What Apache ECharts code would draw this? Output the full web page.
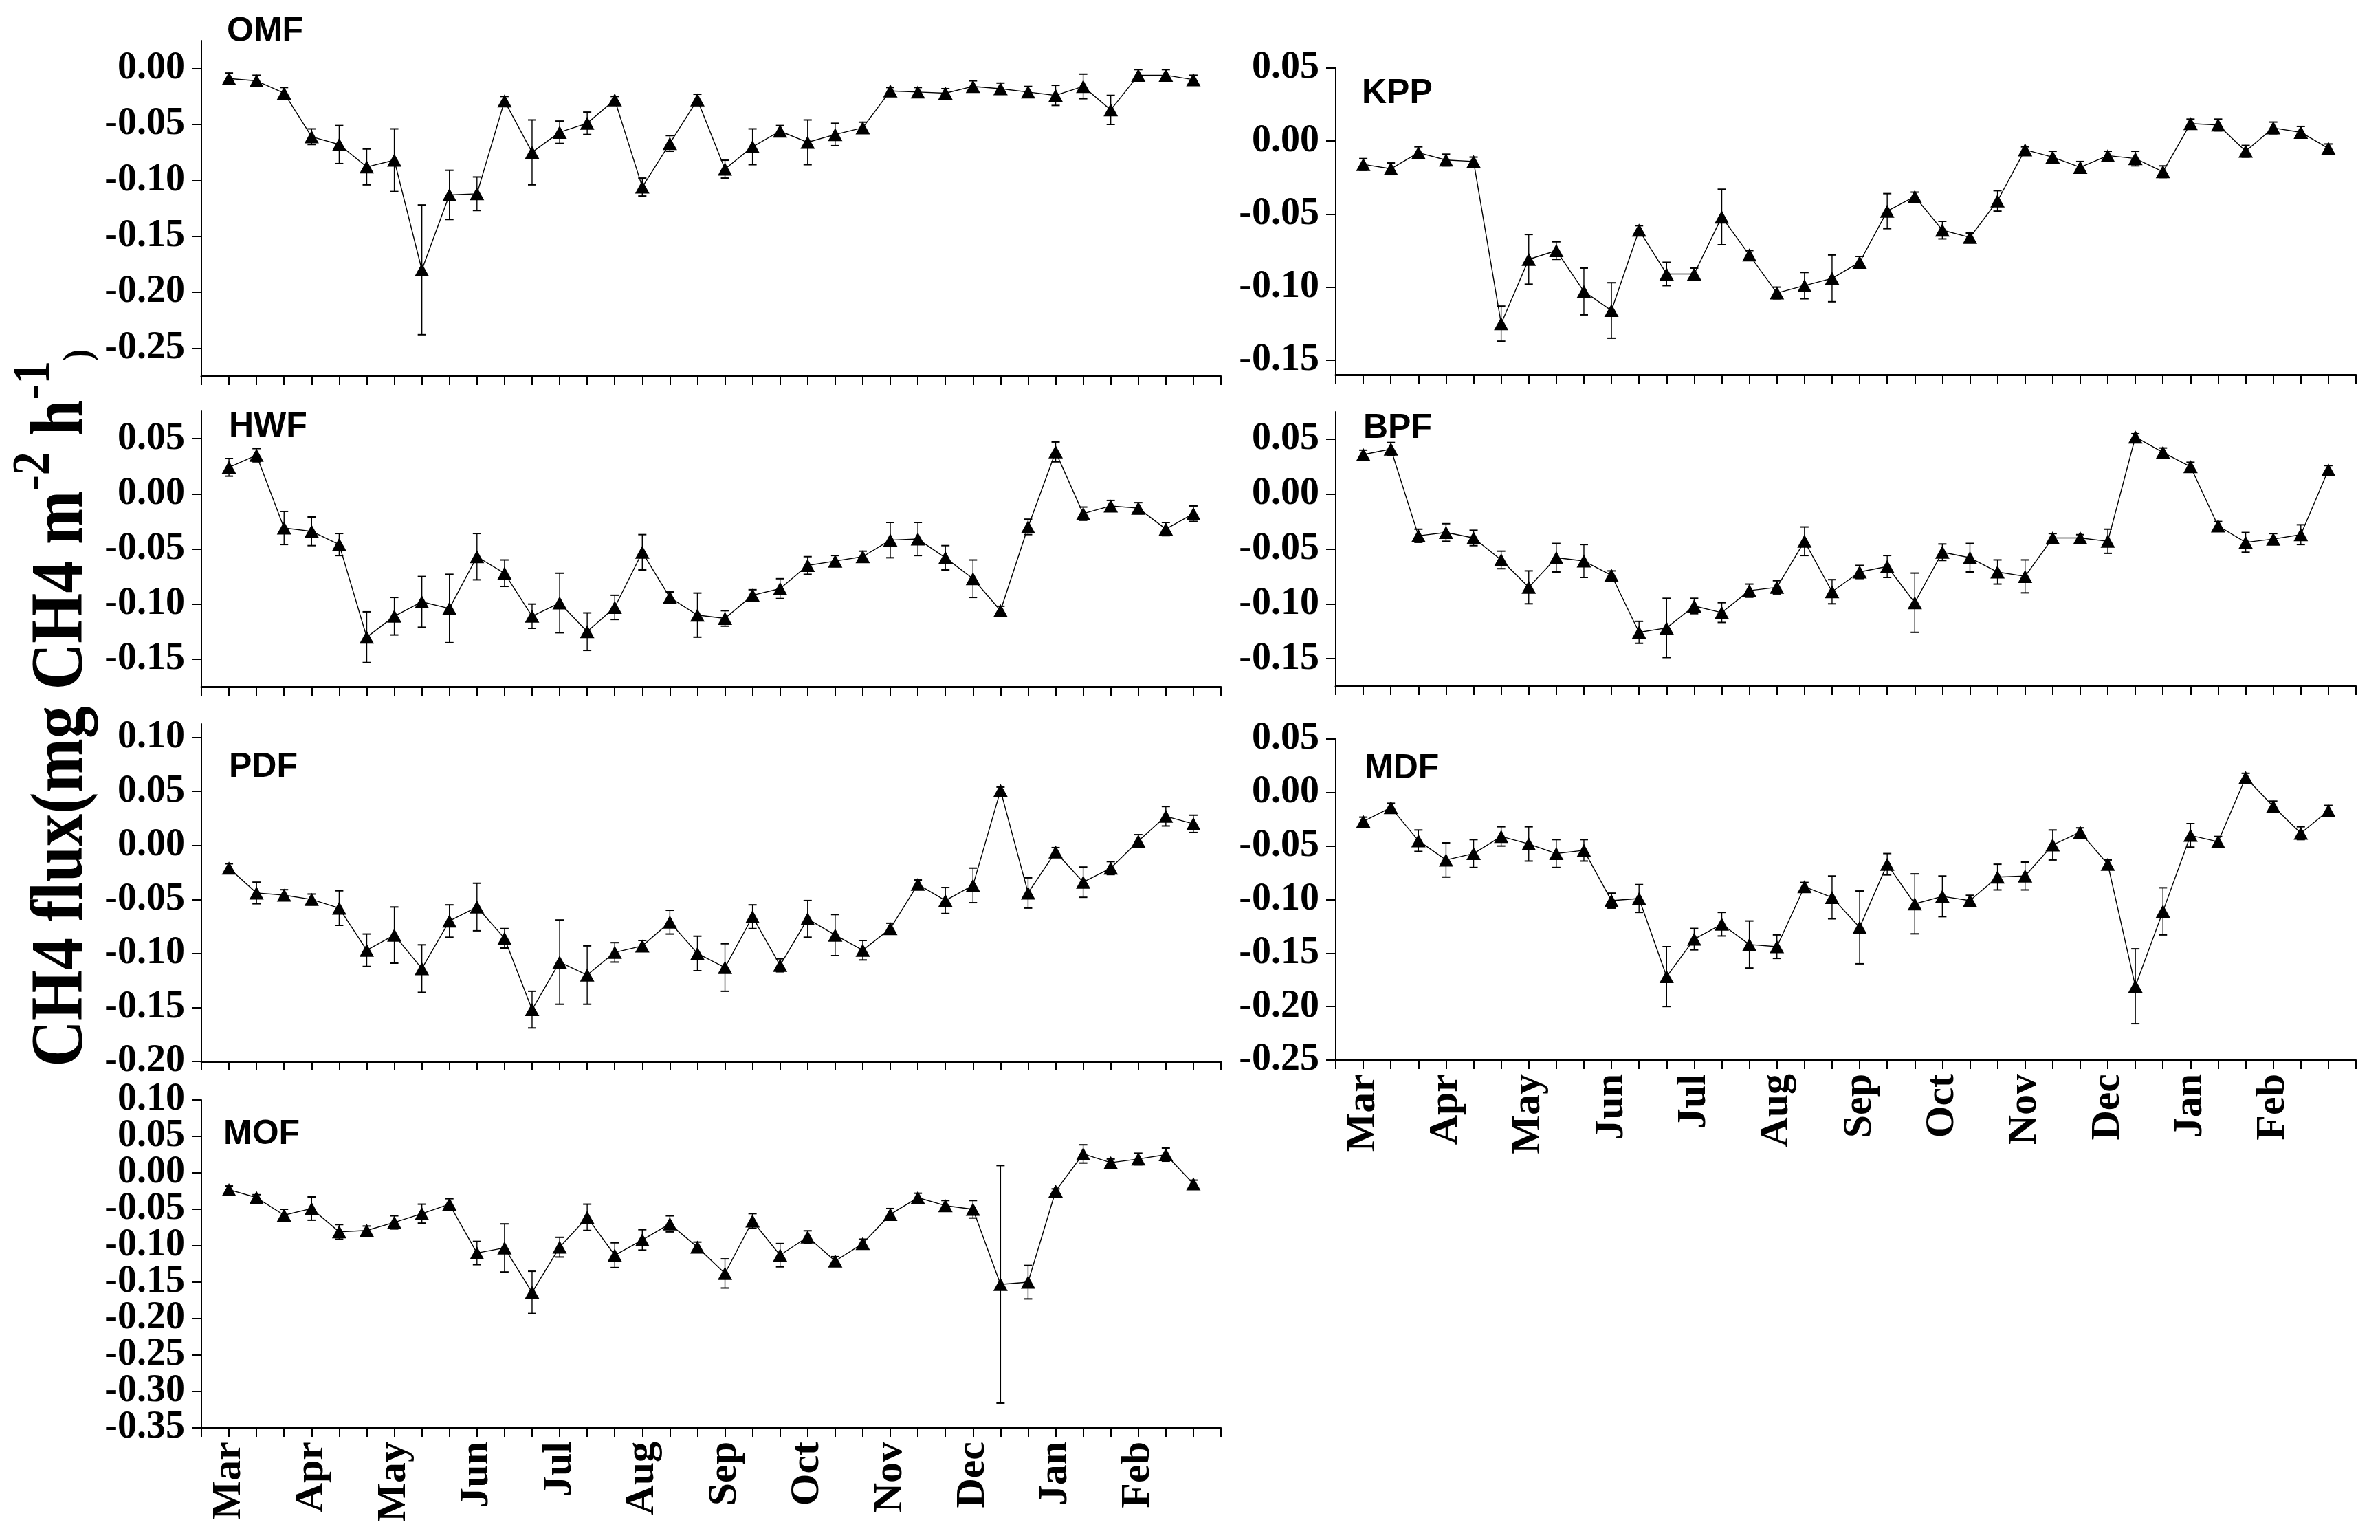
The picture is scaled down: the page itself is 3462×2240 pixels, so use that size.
<!DOCTYPE html>
<html>
<head>
<meta charset="utf-8">
<script src="https://cdn.jsdelivr.net/npm/echarts@6/dist/echarts.min.js"></script>
<style>html,body{margin:0;padding:0;background:#fff}#c{width:3462px;height:2240px}</style>
</head>
<body>
<div id="c"></div>
<script>
// ---------- data ----------
const months = ['Mar','Apr','May','Jun','Jul','Aug','Sep','Oct','Nov','Dec','Jan','Feb'];
const monthPos = [1,4,7,10,13,16,19,22,25,28,31,34];

const omfMean = [-0.009,-0.011,-0.022,-0.061,-0.068,-0.088,-0.082,-0.180,-0.113,-0.112,-0.029,-0.075,-0.057,-0.049,-0.028,-0.106,-0.067,-0.028,-0.090,-0.070,-0.056,-0.066,-0.059,-0.053,-0.020,-0.021,-0.022,-0.016,-0.018,-0.021,-0.024,-0.016,-0.037,-0.006,-0.006,-0.010];
const omfErr  = [0.005,0.005,0.005,0.007,0.017,0.016,0.028,0.058,0.022,0.015,0.004,0.029,0.010,0.010,0.003,0.008,0.007,0.005,0.008,0.016,0.005,0.020,0.010,0.005,0.003,0.004,0.004,0.005,0.005,0.005,0.009,0.011,0.013,0.005,0.005,0.004];

const kppMean = [-0.016,-0.019,-0.008,-0.013,-0.014,-0.125,-0.081,-0.075,-0.103,-0.116,-0.061,-0.091,-0.091,-0.052,-0.078,-0.104,-0.099,-0.094,-0.083,-0.048,-0.038,-0.061,-0.066,-0.041,-0.006,-0.011,-0.018,-0.010,-0.012,-0.021,0.012,0.011,-0.007,0.009,0.006,-0.005];
const kppErr  = [0.004,0.004,0.004,0.004,0.003,0.012,0.017,0.006,0.016,0.019,0.003,0.008,0.004,0.019,0.003,0.004,0.009,0.016,0.004,0.012,0.003,0.006,0.003,0.007,0.002,0.004,0.004,0.003,0.005,0.004,0.003,0.004,0.004,0.004,0.004,0.003];

const hwfMean = [0.024,0.035,-0.031,-0.034,-0.046,-0.130,-0.111,-0.098,-0.104,-0.057,-0.072,-0.111,-0.099,-0.125,-0.103,-0.053,-0.094,-0.110,-0.113,-0.092,-0.086,-0.065,-0.061,-0.057,-0.042,-0.041,-0.058,-0.077,-0.106,-0.030,0.038,-0.018,-0.011,-0.013,-0.032,-0.018];
const hwfErr  = [0.008,0.006,0.015,0.013,0.010,0.023,0.017,0.023,0.031,0.021,0.012,0.011,0.027,0.017,0.011,0.016,0.005,0.020,0.007,0.005,0.009,0.008,0.005,0.005,0.016,0.015,0.011,0.017,0.004,0.007,0.009,0.006,0.005,0.005,0.006,0.007];

const bpfMean = [0.036,0.041,-0.038,-0.035,-0.040,-0.060,-0.085,-0.058,-0.061,-0.074,-0.126,-0.122,-0.102,-0.108,-0.088,-0.085,-0.043,-0.089,-0.071,-0.066,-0.099,-0.053,-0.058,-0.071,-0.075,-0.040,-0.040,-0.043,0.052,0.038,0.025,-0.029,-0.044,-0.041,-0.037,0.022];
const bpfErr  = [0.004,0.006,0.006,0.008,0.007,0.008,0.015,0.013,0.015,0.004,0.010,0.027,0.007,0.009,0.006,0.006,0.013,0.011,0.006,0.010,0.027,0.0075,0.013,0.011,0.015,0.004,0.003,0.011,0.003,0.004,0.004,0.004,0.009,0.005,0.009,0.004];

const pdfMean = [-0.021,-0.044,-0.046,-0.050,-0.058,-0.097,-0.083,-0.114,-0.070,-0.057,-0.086,-0.152,-0.108,-0.120,-0.099,-0.093,-0.071,-0.100,-0.113,-0.066,-0.111,-0.068,-0.083,-0.097,-0.077,-0.036,-0.051,-0.037,0.051,-0.044,-0.006,-0.034,-0.021,0.004,0.027,0.020];
const pdfErr  = [0.004,0.010,0.005,0.005,0.016,0.015,0.026,0.022,0.015,0.022,0.009,0.017,0.039,0.027,0.009,0.005,0.011,0.016,0.022,0.011,0.006,0.017,0.019,0.009,0.005,0.004,0.012,0.016,0.003,0.014,0.004,0.014,0.006,0.006,0.009,0.008];

const mdfMean = [-0.027,-0.014,-0.045,-0.063,-0.057,-0.041,-0.048,-0.057,-0.054,-0.101,-0.099,-0.172,-0.137,-0.123,-0.142,-0.144,-0.088,-0.098,-0.126,-0.067,-0.104,-0.097,-0.101,-0.079,-0.078,-0.049,-0.037,-0.067,-0.181,-0.111,-0.040,-0.046,0.014,-0.013,-0.038,-0.017];
const mdfErr  = [0.004,0.004,0.010,0.016,0.013,0.009,0.016,0.013,0.010,0.007,0.013,0.028,0.010,0.011,0.022,0.011,0.004,0.020,0.034,0.010,0.028,0.019,0.005,0.012,0.013,0.014,0.004,0.004,0.035,0.022,0.011,0.005,0.004,0.005,0.006,0.005];

const mofMean = [-0.023,-0.034,-0.058,-0.049,-0.081,-0.079,-0.068,-0.056,-0.043,-0.110,-0.103,-0.164,-0.102,-0.061,-0.113,-0.092,-0.070,-0.102,-0.138,-0.066,-0.113,-0.088,-0.121,-0.097,-0.057,-0.034,-0.045,-0.050,-0.153,-0.150,-0.025,0.026,0.014,0.019,0.025,-0.015];
const mofErr  = [0.005,0.004,0.008,0.016,0.010,0.006,0.009,0.013,0.0075,0.016,0.033,0.029,0.0135,0.018,0.017,0.014,0.011,0.007,0.020,0.010,0.016,0.0085,0.006,0.006,0.008,0.006,0.007,0.012,0.163,0.023,0.003,0.0125,0.005,0.008,0.009,0.005];

const omfTicks = [-0.25,-0.20,-0.15,-0.10,-0.05,0.00];
const kppTicks = [-0.15,-0.10,-0.05,0.00,0.05];
const hwfTicks = [-0.15,-0.10,-0.05,0.00,0.05];
const bpfTicks = [-0.15,-0.10,-0.05,0.00,0.05];
const pdfTicks = [-0.20,-0.15,-0.10,-0.05,0.00,0.05,0.10];
const mdfTicks = [-0.25,-0.20,-0.15,-0.10,-0.05,0.00,0.05];
const mofTicks = [-0.35,-0.30,-0.25,-0.20,-0.15,-0.10,-0.05,0.00,0.05,0.10];

// ---------- layout ----------
const LEFT_X = 293, LEFT_W = 1483, RIGHT_X = 1943, RIGHT_W = 1484;
const panels = [
  {name:'OMF', mean:omfMean, err:omfErr, ticks:omfTicks, min:-0.275, max:0.025, left:LEFT_X, width:LEFT_W, top:59, bottom:547, months:false, lx:330, ly:46},
  {name:'KPP', mean:kppMean, err:kppErr, ticks:kppTicks, min:-0.16, max:0.05, left:RIGHT_X, width:RIGHT_W, top:99, bottom:545, months:false, lx:1981, ly:136},
  {name:'HWF', mean:hwfMean, err:hwfErr, ticks:hwfTicks, min:-0.175, max:0.075, left:LEFT_X, width:LEFT_W, top:598, bottom:999, months:false, lx:333, ly:621},
  {name:'BPF', mean:bpfMean, err:bpfErr, ticks:bpfTicks, min:-0.175, max:0.075, left:RIGHT_X, width:RIGHT_W, top:599, bottom:998, months:false, lx:1983, ly:623},
  {name:'PDF', mean:pdfMean, err:pdfErr, ticks:pdfTicks, min:-0.2, max:0.1125, left:LEFT_X, width:LEFT_W, top:1053, bottom:1544, months:false, lx:333, ly:1116},
  {name:'MDF', mean:mdfMean, err:mdfErr, ticks:mdfTicks, min:-0.25, max:0.05, left:RIGHT_X, width:RIGHT_W, top:1075, bottom:1542, months:true, lx:1985, ly:1118},
  {name:'MOF', mean:mofMean, err:mofErr, ticks:mofTicks, min:-0.35, max:0.10, left:LEFT_X, width:LEFT_W, top:1600, bottom:2077, months:true, lx:325, ly:1650}
];

const SERIF = '"Liberation Serif","Times New Roman",Times,serif';
const SANS = '"Liberation Sans",Arial,Helvetica,sans-serif';

function renderErr(params, api) {
  const x = api.value(0), lo = api.value(1), hi = api.value(2);
  const pLo = api.coord([x, lo]), pHi = api.coord([x, hi]);
  const hw = 6;
  const st = {stroke:'#000', lineWidth:1.4};
  return {type:'group', children:[
    {type:'line', shape:{x1:pLo[0], y1:pLo[1], x2:pHi[0], y2:pHi[1]}, style:st},
    {type:'line', shape:{x1:pLo[0]-hw, y1:pLo[1], x2:pLo[0]+hw, y2:pLo[1]}, style:{stroke:'#000', lineWidth:2}},
    {type:'line', shape:{x1:pHi[0]-hw, y1:pHi[1], x2:pHi[0]+hw, y2:pHi[1]}, style:{stroke:'#000', lineWidth:2}}
  ]};
}

const yLabelStyle = {
  margin:24, showMinLabel:true, showMaxLabel:true, hideOverlap:false,
  formatter:(v) => (Math.abs(v) < 1e-9 ? 0 : v).toFixed(2),
  fontFamily:SERIF, fontWeight:'bold', fontSize:56, color:'#000'
};

const grid = [], xAxis = [], yAxis = [], series = [], graphic = [];
panels.forEach((p, i) => {
  grid.push({left:p.left, top:p.top, width:p.width, height:p.bottom - p.top, containLabel:false});
  xAxis.push({
    type:'value', gridIndex:i, min:0, max:37, interval:1, position:'bottom',
    axisLine:{show:true, onZero:false, lineStyle:{color:'#000', width:3}},
    axisTick:{show:true, inside:false, length:13, lineStyle:{color:'#000', width:2}},
    splitLine:{show:false},
    axisLabel:{
      show:p.months, customValues:monthPos, rotate:90, margin:20,
      formatter:(v) => { const k = monthPos.indexOf(Math.round(v)); return k >= 0 ? months[k] : ''; },
      fontFamily:SERIF, fontWeight:'bold', fontSize:60, color:'#000'
    }
  });
  // two y axes on the same side: labels split (alternate) so none gets auto-hidden
  const labA = p.ticks.filter((_, k) => k % 2 === 0);
  const labB = p.ticks.filter((_, k) => k % 2 === 1);
  yAxis.push({
    type:'value', gridIndex:i, min:p.min, max:p.max, position:'left',
    axisLine:{show:true, onZero:false, lineStyle:{color:'#000', width:2}},
    axisTick:{show:true, inside:false, length:14, customValues:p.ticks, lineStyle:{color:'#000', width:2}},
    splitLine:{show:false},
    axisLabel:Object.assign({show:true, customValues:labA}, yLabelStyle)
  });
  yAxis.push({
    type:'value', gridIndex:i, min:p.min, max:p.max, position:'left',
    axisLine:{show:false, onZero:false},
    axisTick:{show:false},
    splitLine:{show:false},
    axisLabel:Object.assign({show:true, customValues:labB}, yLabelStyle)
  });
  series.push({
    type:'custom', xAxisIndex:i, yAxisIndex:2 * i, renderItem:renderErr, z:2, silent:true,
    encode:{x:0, y:[1,2]},
    data:p.mean.map((m, j) => [j + 1, m - p.err[j], m + p.err[j]])
  });
  series.push({
    type:'line', xAxisIndex:i, yAxisIndex:2 * i, z:3, silent:true,
    symbol:'triangle', symbolSize:[21,19],
    itemStyle:{color:'#000'}, lineStyle:{color:'#000', width:1.4},
    data:p.mean.map((m, j) => [j + 1, m])
  });
  graphic.push({
    type:'text', x:p.lx, y:p.ly, silent:true,
    style:{text:p.name, fontFamily:SANS, fontWeight:'bold', fontSize:50, fill:'#000', align:'left', verticalAlign:'middle'}
  });
});

graphic.push({
  type:'text', x:78, y:1030, rotation:Math.PI/2, scaleY:1.15, silent:true,
  style:{
    text:'{a|CH4 flux(mg CH4 m}{b|-2}{a| h}{b|-1}{c|)}',
    align:'center', verticalAlign:'middle', fill:'#000',
    rich:{
      a:{fontFamily:SERIF, fontWeight:'bold', fontSize:94, lineHeight:116, verticalAlign:'bottom', fill:'#000'},
      b:{fontFamily:SERIF, fontWeight:'bold', fontSize:68, lineHeight:116, verticalAlign:'top', fill:'#000'},
      c:{fontFamily:SERIF, fontWeight:'bold', fontSize:50, lineHeight:116, verticalAlign:'bottom', fill:'#000'}
    }
  }
});

const chart = echarts.init(document.getElementById('c'), null, {renderer:'canvas', width:3462, height:2240});
chart.setOption({
  animation:false,
  backgroundColor:'#fff',
  grid, xAxis, yAxis, series, graphic
});
</script>
</body>
</html>
